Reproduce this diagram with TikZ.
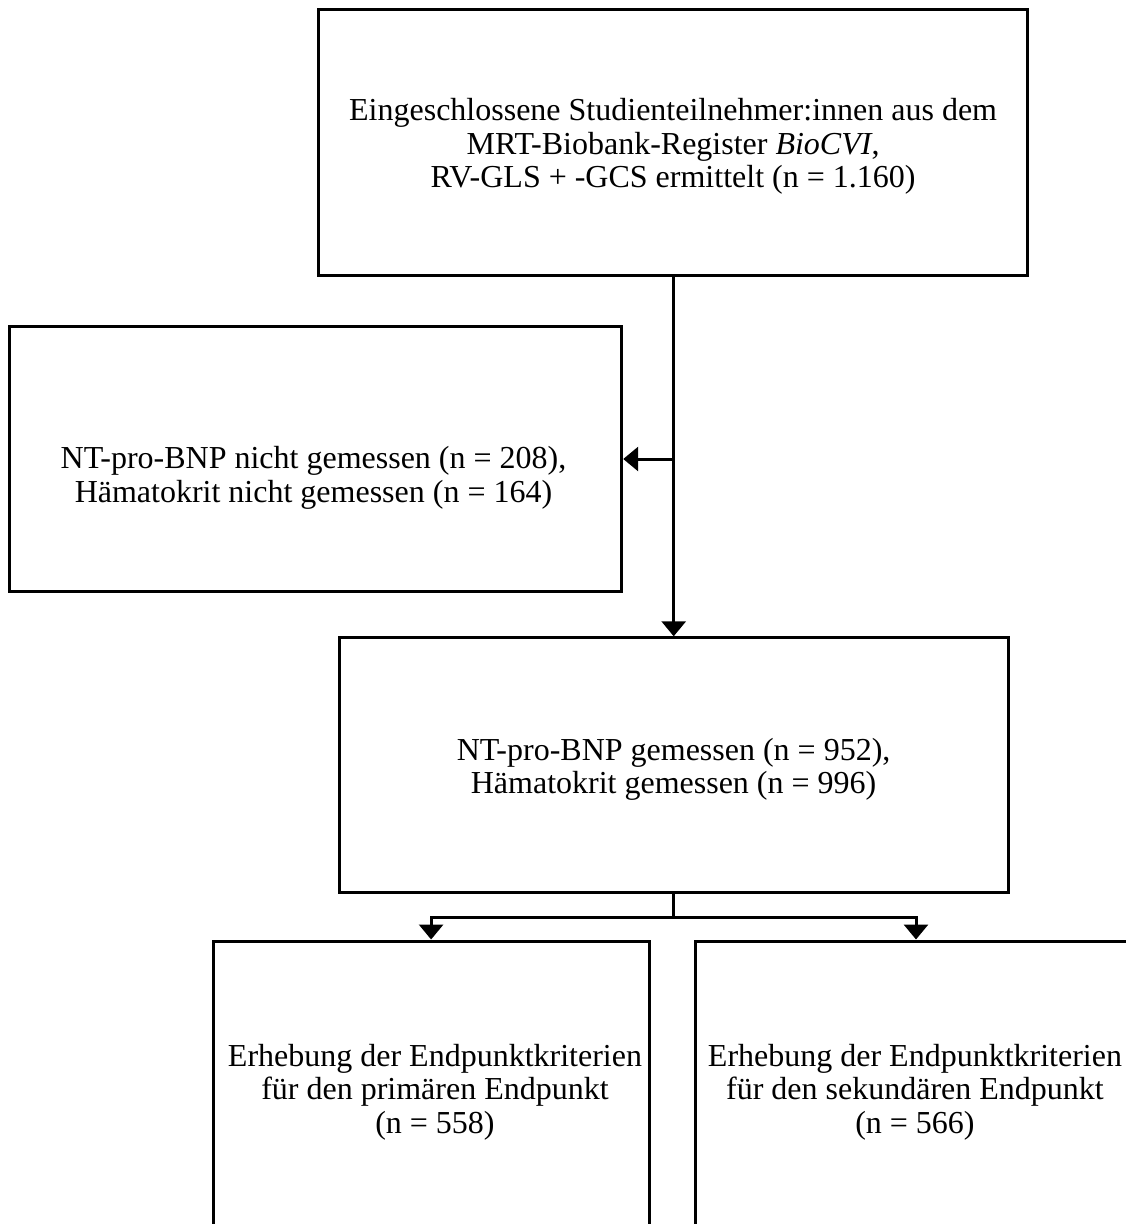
\documentclass[tikz,border=0pt]{standalone}
\usepackage{fontspec}
\setmainfont{Liberation Serif}
\usetikzlibrary{arrows.meta}
\begin{document}
\begin{tikzpicture}[x=1pt,y=-1pt,
  box/.style={draw=black,line width=3pt,rectangle,inner sep=0pt,fill=none},
  txt/.style={align=center,font=\fontsize{32}{33.5}\selectfont,inner sep=0pt},
  conn/.style={line width=3pt},
  arr/.style={conn,-{Triangle[length=15pt,width=24pt]}}]
\clip (0,0) rectangle (1126,1224);
\fill[white] (0,0) rectangle (1126,1224);
% boxes
\node[box,minimum width=709pt,minimum height=266pt] (top) at (673.1,142.9) {};
\node[box,minimum width=612pt,minimum height=265pt] (left) at (315.7,459.3) {};
\node[box,minimum width=669pt,minimum height=255pt] (mid) at (673.6,765.3) {};
\node[box,minimum width=436pt,minimum height=300pt] (bl) at (431.1,1091) {};
\node[box,minimum width=442pt,minimum height=300pt] (br) at (916,1091) {};
% texts
\node[txt] (ttop) at (673.1,146.5) {Eingeschlossene Studienteilnehmer:innen aus dem\\MRT-Biobank-Register \textit{BioCVI},\\RV-GLS + -GCS ermittelt (n = 1.160)};
\node[txt] (tleft) at (313.5,478) {NT-pro-BNP nicht gemessen (n = 208),\\Hämatokrit nicht gemessen (n = 164)};
\node[txt] (tmid) at (673.6,769.5) {NT-pro-BNP gemessen (n = 952),\\Hämatokrit gemessen (n = 996)};
\node[txt] (tbl) at (435,1092) {Erhebung der Endpunktkriterien\\für den primären Endpunkt\\(n = 558)};
\node[txt] (tbr) at (915,1092) {Erhebung der Endpunktkriterien\\für den sekundären Endpunkt\\(n = 566)};
% connectors
\coordinate (j1) at (673.7,459);
\coordinate (j2) at (673.7,917);
\draw[arr] (top.south -| j1) -- (mid.north -| j1);
\draw[arr] (j1) -- (left.east |- j1);
\draw[conn] (mid.south -| j2) -- (j2);
\draw[arr] (j2) -| (bl.north);
\draw[arr] (j2) -| (br.north);
\end{tikzpicture}
\end{document}
